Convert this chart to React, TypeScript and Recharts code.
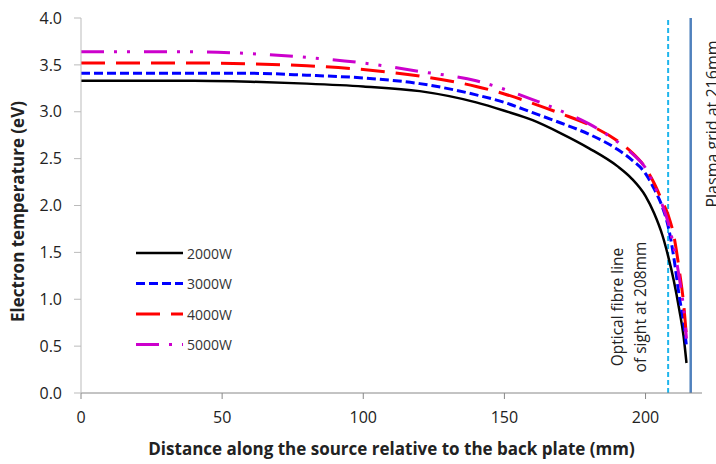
import React from 'react';
import {
  Line,
  LineChart,
  ReferenceLine,
  XAxis,
  YAxis,
} from 'recharts';

// distance along the source (mm)
const distance = [0, 20, 40, 60, 80, 100, 120, 140, 150, 160, 170, 180, 190, 195, 200, 203, 206, 208, 210, 212, 213.5, 214.5];

// electron temperature (eV) per power level
const te2000 = [3.33, 3.33, 3.33, 3.32, 3.3, 3.27, 3.22, 3.1, 3.01, 2.91, 2.77, 2.61, 2.42, 2.29, 2.1, 1.92, 1.68, 1.46, 1.2, 0.88, 0.6, 0.32];
const te3000 = [3.41, 3.41, 3.41, 3.41, 3.39, 3.36, 3.3, 3.18, 3.1, 2.99, 2.88, 2.76, 2.6, 2.49, 2.34, 2.18, 1.98, 1.78, 1.45, 1.02, 0.75, 0.5];
const te4000 = [3.52, 3.52, 3.52, 3.51, 3.49, 3.45, 3.38, 3.27, 3.19, 3.09, 2.98, 2.86, 2.69, 2.57, 2.4, 2.24, 2.04, 1.9, 1.68, 1.3, 0.95, 0.6];
const te5000 = [3.64, 3.64, 3.64, 3.62, 3.58, 3.52, 3.43, 3.33, 3.24, 3.13, 3.01, 2.87, 2.68, 2.56, 2.4, 2.22, 2.0, 1.82, 1.56, 1.22, 0.9, 0.58];

const xTicks = [0, 50, 100, 150, 200];
const yTicks = [0, 0.5, 1, 1.5, 2, 2.5, 3, 3.5, 4];

const fibreLine = 208;
const gridLine = 216;

const data = distance.map((d, i) => ({
  d,
  p2000: te2000[i],
  p3000: te3000[i],
  p4000: te4000[i],
  p5000: te5000[i],
}));

const series = [
  { key: 'p2000', name: '2000W', color: '#000000', dash: undefined, width: 2.5 },
  { key: 'p3000', name: '3000W', color: '#0000ff', dash: '9 4', width: 3 },
  { key: 'p4000', name: '4000W', color: '#ff0000', dash: '24 11', width: 3 },
  { key: 'p5000', name: '5000W', color: '#cc00cc', dash: '23 10 3 10 3 14', width: 3 },
];

const FONT = '"Open Sans", sans-serif';

// legend drawn as an overlay so it does not shrink the plot area
const LegendBox = () => (
  <svg
    width={130}
    height={110}
    style={{ position: 'absolute', left: 130, top: 245 }}
  >
    {series.map((s, i) => (
      <g key={s.key}>
        <line
          x1={6}
          x2={53}
          y1={8 + i * 30.5}
          y2={8 + i * 30.5}
          stroke={s.color}
          strokeWidth={s.width}
          strokeDasharray={s.dash}
        />
        <text
          x={57}
          y={8 + i * 30.5}
          dominantBaseline="central"
          fontSize={14}
          fontFamily={FONT}
          fill="#333"
        >
          {s.name}
        </text>
      </g>
    ))}
  </svg>
);

const YTitle = ({ viewBox }: any) => {
  const x = 17;
  const cy = viewBox.y + viewBox.height / 2 + 6;
  return (
    <text
      x={x}
      y={cy}
      textAnchor="middle"
      dominantBaseline="central"
      fontFamily={FONT}
      fontSize={17}
      fontWeight="bold"
      fill="#222"
      transform={`rotate(-90 ${x} ${cy})`}
    >
      Electron temperature (eV)
    </text>
  );
};

const FibreLabel = ({ viewBox }: any) => {
  const x = viewBox.x;
  const cy = 307;
  return (
    <g fontFamily={FONT} fontSize={15.5} fill="#222">
      <text
        x={x - 51}
        y={cy}
        textAnchor="middle"
        dominantBaseline="central"
        transform={`rotate(-90 ${x - 51} ${cy})`}
      >
        Optical fibre line
      </text>
      <text
        x={x - 28}
        y={cy}
        textAnchor="middle"
        dominantBaseline="central"
        transform={`rotate(-90 ${x - 28} ${cy})`}
      >
        of sight at 208mm
      </text>
    </g>
  );
};

const GridLabel = ({ viewBox }: any) => {
  const x = viewBox.x + 27;
  const cy = 124;
  return (
    <text
      x={x}
      y={cy}
      textAnchor="middle"
      fontFamily={FONT}
      fontSize={16}
      fill="#222"
      transform={`rotate(-90 ${x} ${cy})`}
    >
      Plasma grid at 216mm
    </text>
  );
};

export default function App() {
  return (
    <div style={{ position: 'absolute', left: 0, top: 0, width: 716, height: 464, background: '#fff' }}>
      <LineChart
        width={716}
        height={464}
        data={data}
        margin={{ top: 18, right: 14, left: 0, bottom: 0 }}
      >
        <XAxis
          dataKey="d"
          type="number"
          domain={[0, 220]}
          ticks={xTicks}
          stroke="#888"
          tickSize={6}
          tickMargin={13}
          height={71}
          tick={{ fill: '#222', fontSize: 16, fontFamily: FONT }}
          label={{
            value: 'Distance along the source relative to the back plate (mm)',
            position: 'insideBottom',
            offset: 9,
            fill: '#222',
            fontSize: 17,
            fontWeight: 'bold',
            fontFamily: FONT,
          }}
        />
        <YAxis
          type="number"
          domain={[0, 4]}
          ticks={yTicks}
          width={81}
          stroke="#bbb"
          tickSize={7}
          tickMargin={12}
          tickFormatter={(v: number) => v.toFixed(1)}
          tick={{ fill: '#222', fontSize: 16, fontFamily: FONT }}
          label={<YTitle />}
        />
        <ReferenceLine
          x={fibreLine}
          stroke="#1fb5ec"
          strokeWidth={2}
          strokeDasharray="5 3"
          label={<FibreLabel />}
        />
        <ReferenceLine
          x={gridLine}
          stroke="#4f81bd"
          strokeWidth={2.5}
          label={<GridLabel />}
        />
        {series.map((s) => (
          <Line
            key={s.key}
            type="monotone"
            dataKey={s.key}
            name={s.name}
            stroke={s.color}
            strokeWidth={s.width}
            strokeDasharray={s.dash}
            dot={false}
            activeDot={false}
            isAnimationActive={false}
          />
        ))}
      </LineChart>
      <LegendBox />
    </div>
  );
}
